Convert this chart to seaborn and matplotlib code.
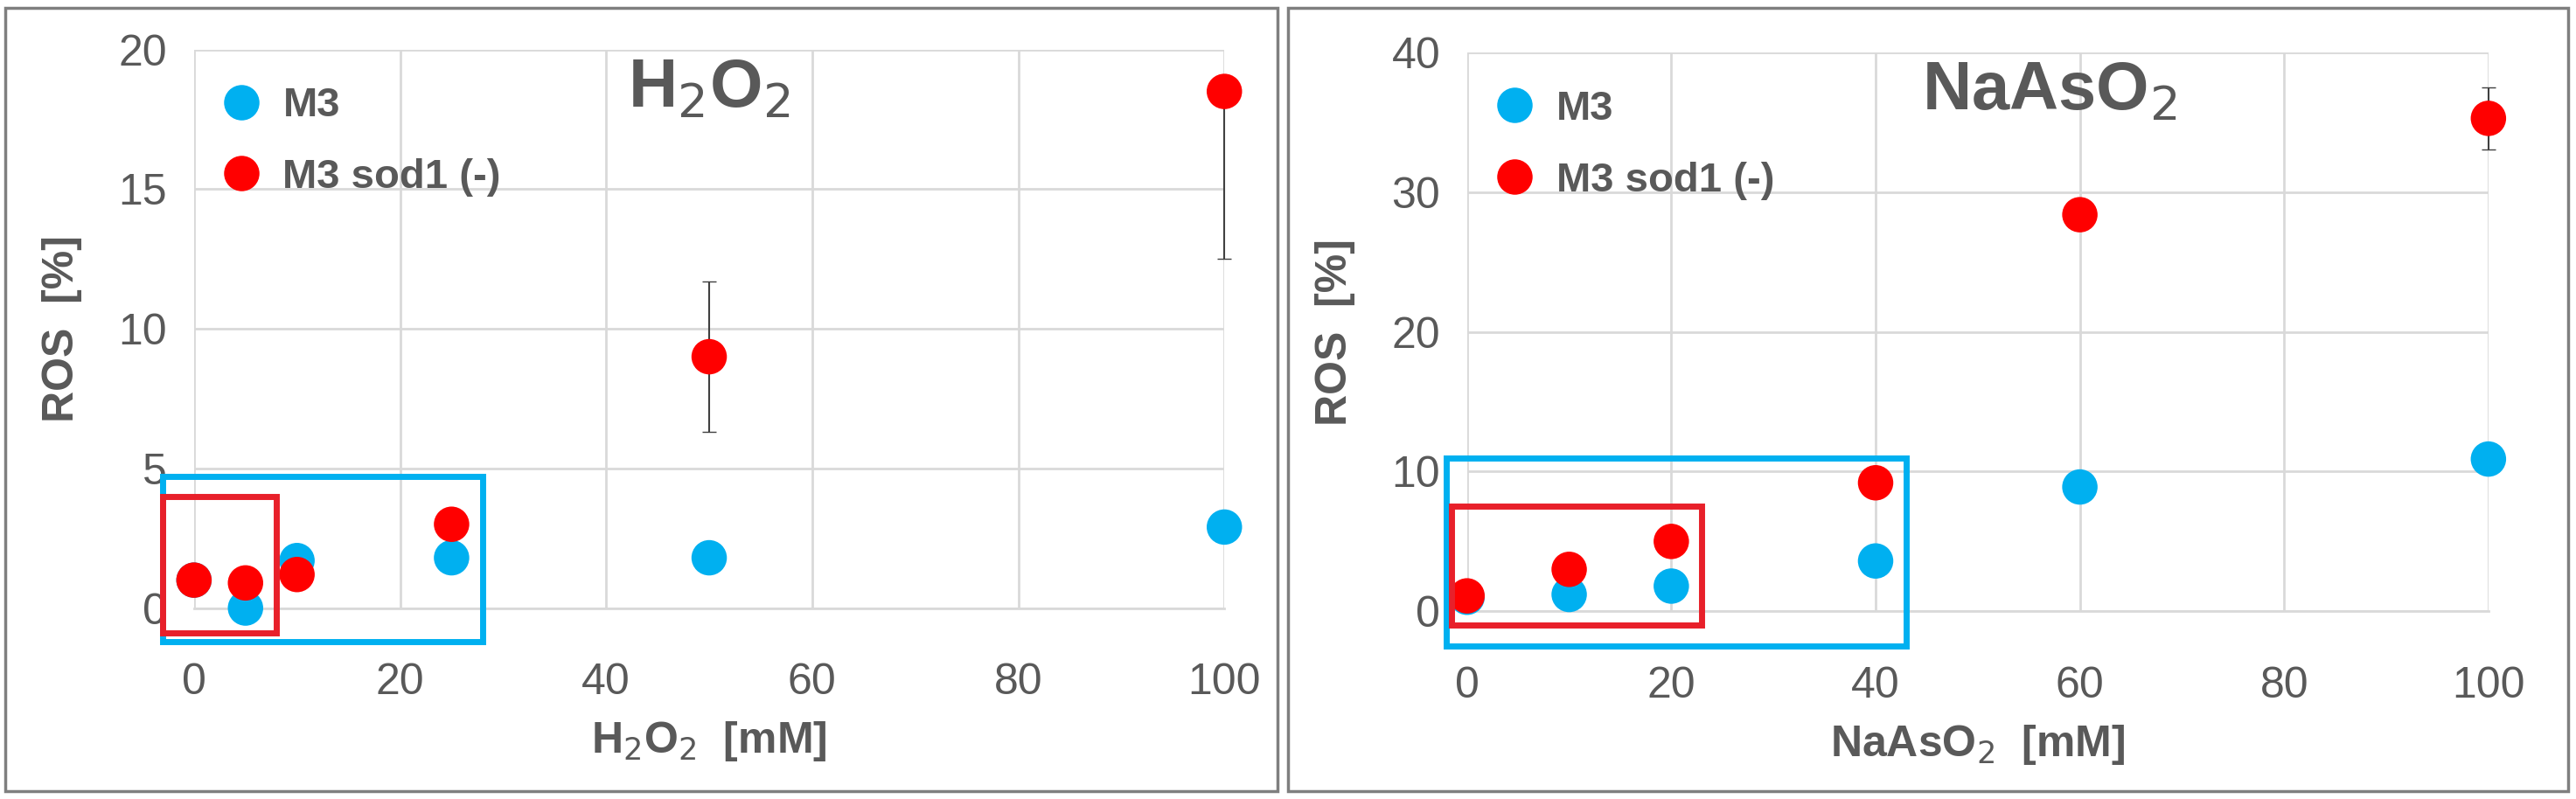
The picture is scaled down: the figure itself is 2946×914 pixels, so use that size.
import matplotlib
matplotlib.use("Agg")
import matplotlib.pyplot as plt
import seaborn as sns
import pandas as pd
from matplotlib.patches import Rectangle

sns.set_style("white")
plt.rcParams['font.family'] = ['Liberation Sans', 'DejaVu Sans']

h_x = [0, 5, 10, 25, 50, 100]
h_m3 = [1.0, 0.0, 1.7, 1.8, 1.8, 2.9]
h_sod = [1.0, 0.9, 1.2, 3.0, 9.0, 18.5]
h_sod_lo = [0, 0, 0, 0.3, 2.7, 6.0]
h_sod_hi = [0, 0, 0, 0.3, 2.7, 0]

n_x = [0, 10, 20, 40, 60, 100]
n_m3 = [1.0, 1.2, 1.8, 3.6, 8.9, 10.9]
n_sod = [1.1, 3.0, 5.0, 9.2, 28.4, 35.3]
n_sod_lo = [0, 0, 0, 0, 0, 2.2]
n_sod_hi = [0, 0, 0, 0, 0, 2.2]

BLUE = "#00B0F0"
RED = "#FF0000"
GRAY = "#595959"

fig = plt.figure(figsize=(29.46, 9.14), dpi=100)
fig.patches.append(Rectangle((0.002, 0.01), 0.494, 0.98, transform=fig.transFigure,
                             fill=False, ec="#7f7f7f", lw=2.5))
fig.patches.append(Rectangle((0.5, 0.01), 0.497, 0.98, transform=fig.transFigure,
                             fill=False, ec="#7f7f7f", lw=2.5))

ax1 = fig.add_axes([0.0753, 0.239, 0.4, 0.699])
ax2 = fig.add_axes([0.5695, 0.235, 0.3965, 0.699])

def panel(ax, x, m3, sod, lo, hi, ymax, ystep, title, xlabel, rects, title_x):
    df = pd.DataFrame({"x": x + x, "y": m3 + sod,
                       "s": ["M3"] * len(x) + ["M3 sod1 (-)"] * len(x)})
    ax.errorbar(x, sod, yerr=[lo, hi], fmt="none", ecolor="#404040", elinewidth=1.5,
                capsize=6, clip_on=False, zorder=2)
    sns.scatterplot(data=df, x="x", y="y", hue="s", palette={"M3": BLUE, "M3 sod1 (-)": RED},
                    s=850, edgecolor=None, linewidth=0, ax=ax, clip_on=False, zorder=3)
    for sc in ax.collections:
        sc.set_clip_on(False)
    ax.set_xlim(0, 100)
    ax.set_ylim(0, ymax)
    ax.set_xticks(range(0, 101, 20))
    ax.set_yticks(range(0, ymax + 1, ystep))
    ax.grid(True, color="#d9d9d9", lw=2)
    for sp in ax.spines.values():
        sp.set_visible(False)
    ax.spines['bottom'].set_visible(True)
    ax.spines['bottom'].set_color("#d9d9d9")
    ax.spines['bottom'].set_linewidth(2)
    ax.tick_params(labelsize=36, colors=GRAY, length=0)
    ax.tick_params(axis="x", pad=45)
    ax.tick_params(axis="y", pad=22)
    ax.set_xlabel(xlabel, fontsize=36, color=GRAY, fontweight="bold", labelpad=14)
    ax.set_ylabel("ROS  [%]", fontsize=36, color=GRAY, fontweight="bold", labelpad=30)
    ax.text(title_x, 0.93, title, transform=ax.transAxes, fontsize=56, color=GRAY,
            fontweight="bold", ha="center", va="center")
    for (x0, y0, w, h, c) in rects:
        ax.add_patch(Rectangle((x0, y0), w, h, fill=False, ec=c, lw=5, clip_on=False, zorder=4))
    leg = ax.legend(loc="upper left", bbox_to_anchor=(-0.03, 1.0), frameon=False,
                    fontsize=34, markerscale=1.0, handletextpad=0.0, labelspacing=0.8)
    for t in leg.get_texts():
        t.set_color(GRAY)
        t.set_fontweight("bold")

panel(ax1, h_x, h_m3, h_sod, h_sod_lo, h_sod_hi, 20, 5, r"H$_2$O$_2$",
      r"H$_2$O$_2$  [mM]",
      [(-3, -1.2, 31, 5.9, BLUE), (-3, -0.9, 11, 4.9, "#E8202A")], 0.5)
panel(ax2, n_x, n_m3, n_sod, n_sod_lo, n_sod_hi, 40, 10, r"NaAsO$_2$",
      r"NaAsO$_2$  [mM]",
      [(-2, -2.5, 45, 13.5, BLUE), (-1.5, -1.0, 24.5, 8.5, "#E8202A")], 0.57)

fig.savefig("out.png", dpi=100)
